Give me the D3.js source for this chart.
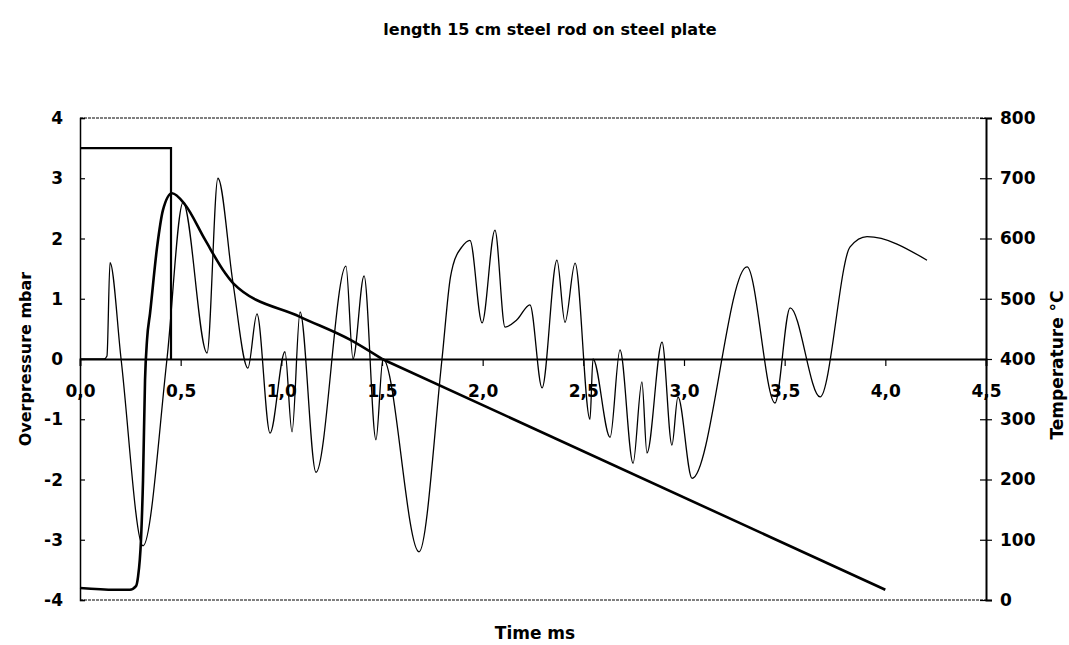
<!DOCTYPE html>
<html>
<head>
<meta charset="utf-8">
<script src="https://cdn.jsdelivr.net/npm/d3@7"></script>
<style>
  body { margin: 0; background: #fff; }
  svg text { font-family: 'DejaVu Sans', sans-serif; font-weight: bold; fill: #000; }
  .pressure { fill: none; stroke: #000; stroke-width: 1.3; }
  .temperature { fill: none; stroke: #000; stroke-width: 2.6; }
  .pulse { fill: none; stroke: #000; stroke-width: 2.2; }
</style>
</head>
<body>
<div id="chart"></div>
<script>
// pressure trace (mbar)
const pressureTime = [0, 0.12, 0.134, 0.149, 0.204, 0.313, 0.432, 0.512, 0.631, 0.685, 0.76, 0.834, 0.879, 0.944, 1.018, 1.053, 1.093, 1.172, 1.321, 1.356, 1.411, 1.47, 1.505, 1.684, 1.798, 1.84, 1.853, 1.897, 1.937, 1.997, 2.061, 2.111, 2.17, 2.235, 2.295, 2.369, 2.409, 2.459, 2.533, 2.548, 2.633, 2.682, 2.747, 2.791, 2.816, 2.891, 2.94, 2.97, 3.04, 3.313, 3.452, 3.527, 3.676, 3.825, 3.909, 4.207];
const pressureValue = [0, 0, 0.05, 1.6, 0, -3.1, 0, 2.6, 0.1, 3.0, 1.26, -0.15, 0.75, -1.23, 0.12, -1.21, 0.78, -1.88, 1.54, 0, 1.38, -1.34, 0, -3.2, 0, 1.36, 1.56, 1.86, 1.97, 0.6, 2.14, 0.53, 0.65, 0.9, -0.48, 1.64, 0.61, 1.59, -1.0, 0, -1.3, 0.15, -1.73, -0.38, -1.56, 0.28, -1.43, -0.63, -1.98, 1.53, -0.73, 0.85, -0.63, 1.86, 2.03, 1.64];

// temperature (°C); after 1.5 ms it falls off in a straight line
const tempTime = [0, 0.174, 0.248, 0.278, 0.288, 0.303, 0.313, 0.323, 0.333, 0.348, 0.383, 0.412, 0.457, 0.522, 0.621, 0.72, 0.76, 1.093, 1.341, 1.5, 4.0];
const tempValue = [20, 17, 17, 23, 38, 100, 199, 365, 432, 476, 586, 647, 675, 656, 598, 543, 526, 470, 432, 400, 17];
const tempStraightFrom = 1.5;

// trigger pulse (mbar axis)
const pulseTime = [0, 0.452, 0.452];
const pulseValue = [3.5, 3.5, 0];

const xTicks = [0, 0.5, 1.0, 1.5, 2.0, 2.5, 3.0, 3.5, 4.0, 4.5];
const pTicks = [-4, -3, -2, -1, 0, 1, 2, 3, 4];
const tTicks = [0, 100, 200, 300, 400, 500, 600, 700, 800];

const width = 1069;
const height = 645;
const marginLeft = 80;
const marginRight = 83;
const marginTop = 118;
const marginBottom = 45;
const fontSize = 17;

const svg = d3.select('#chart').append('svg')
  .attr('width', width)
  .attr('height', height);

const x = d3.scaleLinear().domain([0, 4.5]).range([marginLeft, width - marginRight]);
const yP = d3.scaleLinear().domain([-4, 4]).range([height - marginBottom, marginTop]);
const yT = d3.scaleLinear().domain([0, 800]).range([height - marginBottom, marginTop]);

const fmt = d => d3.format('.1f')(d).replace('.', ',');

// top / bottom frame, dotted like the scan
[4, -4].forEach(v => {
  svg.append('line')
    .attr('x1', x(0)).attr('x2', x(4.5))
    .attr('y1', yP(v)).attr('y2', yP(v))
    .attr('stroke', '#000').attr('stroke-width', 1).attr('stroke-dasharray', '3,1');
});

// left axis (overpressure), ticks inside
const leftAxis = svg.append('g')
  .attr('transform', `translate(${x(0)},0)`)
  .call(d3.axisRight(yP).tickValues(pTicks).tickSize(5).tickFormat(''));
leftAxis.select('.domain').attr('stroke-width', 1.5);
leftAxis.selectAll('.tick line').attr('stroke-width', 1.2);

svg.append('g').selectAll('text')
  .data(pTicks)
  .join('text')
  .attr('x', x(0) - 17)
  .attr('y', d => yP(d))
  .attr('dy', '0.36em')
  .attr('text-anchor', 'end')
  .style('font-size', fontSize + 'px')
  .text(d => d);

// right axis (temperature), ticks crossing
const rightAxis = svg.append('g')
  .attr('transform', `translate(${x(4.5)},0)`)
  .call(d3.axisRight(yT).tickValues(tTicks).tickSize(6).tickPadding(8).tickFormat(d => d));
rightAxis.select('.domain').attr('stroke-width', 2);
rightAxis.selectAll('.tick line').attr('x1', -6).attr('stroke-width', 1.2);
rightAxis.selectAll('.tick text')
  .style('font-size', fontSize + 'px')
  .style('font-family', "'DejaVu Sans', sans-serif")
  .style('font-weight', 'bold');

// time axis sits on the zero line
const bottomAxis = svg.append('g')
  .attr('transform', `translate(0,${yP(0)})`)
  .call(d3.axisBottom(x).tickValues(xTicks).tickSize(7).tickPadding(19).tickFormat(fmt));
bottomAxis.select('.domain').attr('stroke-width', 1.8);
bottomAxis.selectAll('.tick line').attr('stroke-width', 1.2);
bottomAxis.selectAll('.tick text')
  .style('font-size', fontSize + 'px')
  .style('font-family', "'DejaVu Sans', sans-serif")
  .style('font-weight', 'bold');

// lines
const pressureLine = d3.line()
  .x((d, i) => x(pressureTime[i]))
  .y(d => yP(d))
  .curve(d3.curveMonotoneX);

const tempPoints = tempTime.map((t, i) => [t, tempValue[i]]);
const tempCurved = tempPoints.filter(d => d[0] <= tempStraightFrom);
const tempStraight = tempPoints.filter(d => d[0] >= tempStraightFrom);

const tempLine = d3.line()
  .x(d => x(d[0]))
  .y(d => yT(d[1]));

const pulseLine = d3.line()
  .x((d, i) => x(pulseTime[i]))
  .y(d => yP(d));

svg.append('path').attr('class', 'pulse').attr('d', pulseLine(pulseValue));
svg.append('path').attr('class', 'pressure').attr('d', pressureLine(pressureValue));
svg.append('path').attr('class', 'temperature')
  .attr('d', tempLine.curve(d3.curveMonotoneX)(tempCurved));
svg.append('path').attr('class', 'temperature')
  .attr('d', tempLine.curve(d3.curveLinear)(tempStraight));

// titles
svg.append('text')
  .attr('x', 550)
  .attr('y', 35)
  .attr('text-anchor', 'middle')
  .style('font-size', '16px')
  .text('length 15 cm steel rod on steel plate');

svg.append('text')
  .attr('x', 535)
  .attr('y', 639)
  .attr('text-anchor', 'middle')
  .style('font-size', '17px')
  .text('Time ms');

svg.append('text')
  .attr('transform', `translate(31,${yP(0)}) rotate(-90)`)
  .attr('text-anchor', 'middle')
  .style('font-size', '16px')
  .text('Overpressure mbar');

svg.append('text')
  .attr('transform', `translate(1063,365) rotate(-90)`)
  .attr('text-anchor', 'middle')
  .style('font-size', '17px')
  .text('Temperature °C');
</script>
</body>
</html>
